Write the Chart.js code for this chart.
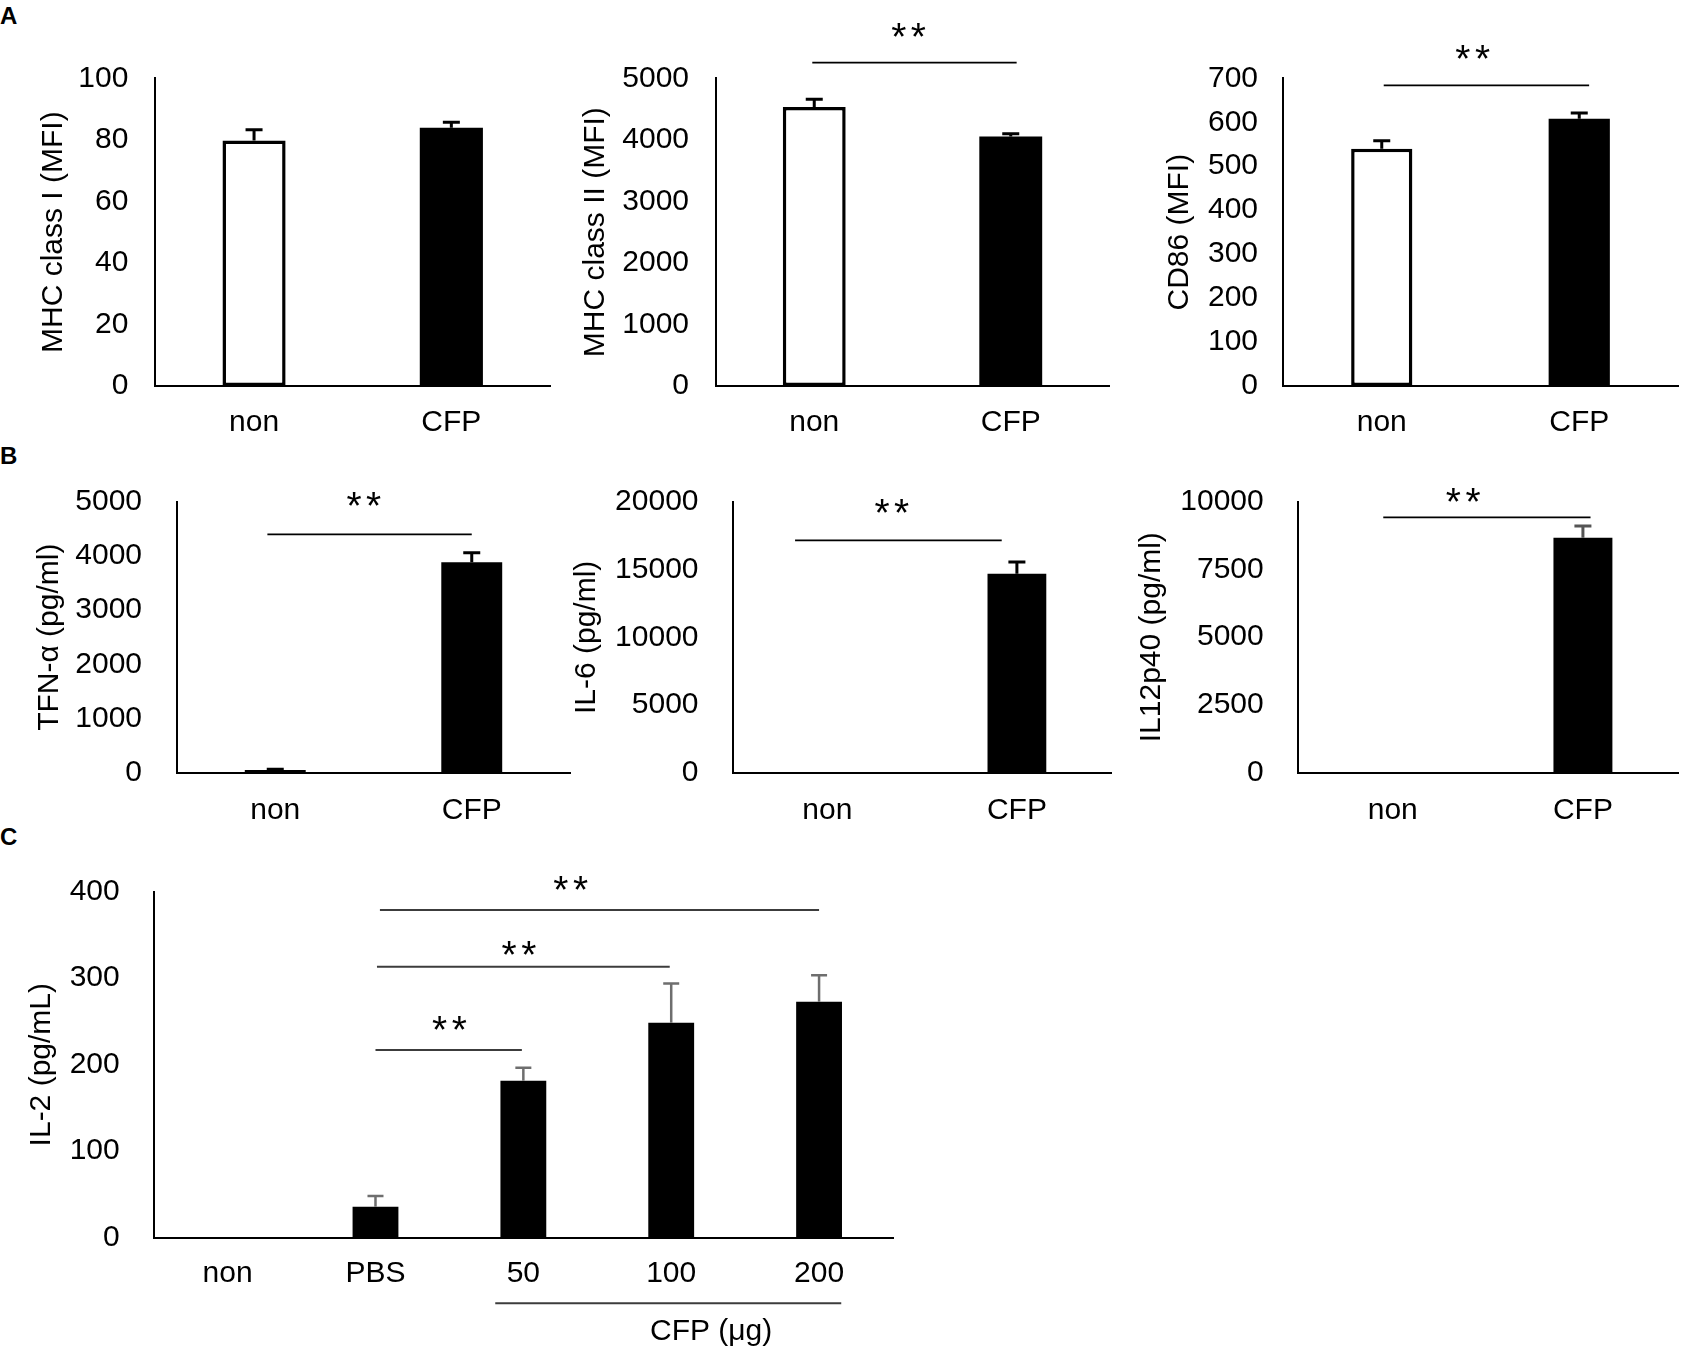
<!DOCTYPE html>
<html><head><meta charset="utf-8">
<script src="https://cdn.jsdelivr.net/npm/chart.js@4.4.0/dist/chart.umd.min.js"></script>
<style>
html,body{margin:0;padding:0;background:#fff;}
body{width:1683px;height:1352px;position:relative;overflow:hidden;font-family:"Liberation Sans",Arial,sans-serif;}
canvas{position:absolute;}
.lbl{position:absolute;font-weight:bold;font-size:24px;line-height:24px;color:#000;}
</style></head><body>
<div class="lbl" style="left:0px;top:4px">A</div>
<div class="lbl" style="left:0px;top:444px">B</div>
<div class="lbl" style="left:0px;top:825px">C</div>
<script>
// ---------- data ----------
const twoGroups = ['non', 'CFP'];
const il2Groups = ['non', 'PBS', '50', '100', '200'];

const mhc1Mean = [79.8, 83.9];
const mhc1Err  = [3.5, 1.8];
const mhc1Ticks = [0, 20, 40, 60, 80, 100];

const mhc2Mean = [4534, 4053];
const mhc2Err  = [125, 45];
const mhc2Ticks = [0, 1000, 2000, 3000, 4000, 5000];

const cd86Mean = [540, 608];
const cd86Err  = [18, 13];
const cd86Ticks = [0, 100, 200, 300, 400, 500, 600, 700];

const tnfMean = [50, 3882];
const tnfErr  = [15, 177];
const tnfTicks = [0, 1000, 2000, 3000, 4000, 5000];

const il6Mean = [0, 14700];
const il6Err  = [0, 860];
const il6Ticks = [0, 5000, 10000, 15000, 20000];

const il12Mean = [0, 8672];
const il12Err  = [0, 430];
const il12Ticks = [0, 2500, 5000, 7500, 10000];

const il2Mean = [0, 35.8, 181.5, 248.6, 272.8];
const il2Err  = [0, 12.4, 15, 45.4, 30.5];
const il2Ticks = [0, 100, 200, 300, 400];

// significance brackets: [fromIndex, toIndex, lineValue, starIndex, starValue]
const mhc2Sig = [[-0.01, 1.03, 5255, 0.48, 5779]];
const cd86Sig = [[0.01, 1.05, 684, 0.46, 760]];
const tnfSig  = [[-0.04, 1.0, 4398, 0.45, 5050]];
const il6Sig  = [[-0.17, 0.92, 17160, 0.34, 19675]];
const il12Sig = [[-0.05, 1.04, 9424, 0.37, 10247]];
const il2Sig  = [[1.0, 1.99, 217, 1.5, 248.6], [1.01, 2.99, 313.3, 1.97, 334.6], [1.03, 4.0, 378.8, 2.32, 410.4]];
const il2GroupLabel = 'CFP (\u03bcg)';
// ---------------------------

const FONT = '"Liberation Sans", Arial, sans-serif';
const FSZ = 30;
Chart.defaults.font.family = FONT;
Chart.defaults.color = '#000';

function drawStars(ctx, cx, cy, inkH, gap, color) {
  ctx.save();
  ctx.textAlign = 'left';
  ctx.textBaseline = 'alphabetic';
  ctx.font = '100px ' + FONT;
  let m = ctx.measureText('*');
  const h = m.actualBoundingBoxAscent + m.actualBoundingBoxDescent;
  const fs = 100 * inkH / h;
  ctx.font = fs + 'px ' + FONT;
  m = ctx.measureText('*');
  const dx = (m.actualBoundingBoxRight - m.actualBoundingBoxLeft) / 2;
  const dy = (m.actualBoundingBoxDescent - m.actualBoundingBoxAscent) / 2;
  ctx.fillStyle = color;
  [-gap / 2, gap / 2].forEach(o => ctx.fillText('*', cx + o - dx, cy - dy));
  ctx.restore();
}

const overlay = {
  id: 'overlay',
  afterDatasetsDraw(chart) {
    const cfg = chart.options.plugins.overlay;
    const ctx = chart.ctx, xs = chart.scales.x, ys = chart.scales.y;
    const meta = chart.getDatasetMeta(0);
    const vals = chart.data.datasets[0].data;
    ctx.save();
    ctx.lineCap = 'butt';
    cfg.err.forEach((e, i) => {
      if (!e) return;
      const bar = meta.data[i];
      const y0 = ys.getPixelForValue(vals[i]);
      const y1 = ys.getPixelForValue(vals[i] + e);
      ctx.strokeStyle = cfg.errColor;
      ctx.lineWidth = cfg.errWidth;
      ctx.beginPath();
      ctx.moveTo(bar.x, y0); ctx.lineTo(bar.x, y1);
      ctx.moveTo(bar.x - cfg.cap / 2, y1); ctx.lineTo(bar.x + cfg.cap / 2, y1);
      ctx.stroke();
    });
    cfg.sig.forEach(s => {
      const y = ys.getPixelForValue(s[2]);
      ctx.strokeStyle = cfg.sigColor;
      ctx.lineWidth = cfg.sigWidth;
      ctx.beginPath();
      ctx.moveTo(xs.getPixelForValue(s[0]), y);
      ctx.lineTo(xs.getPixelForValue(s[1]), y);
      ctx.stroke();
      drawStars(ctx, xs.getPixelForValue(s[3]), ys.getPixelForValue(s[4]), 14, 19.6, '#000');
    });
    if (cfg.group) {
      const g = cfg.group;
      const by = chart.chartArea.bottom + g.dy;
      ctx.strokeStyle = cfg.sigColor;
      ctx.lineWidth = 2;
      ctx.beginPath();
      ctx.moveTo(xs.getPixelForValue(g.from), by);
      ctx.lineTo(xs.getPixelForValue(g.to), by);
      ctx.stroke();
      ctx.fillStyle = '#000';
      ctx.font = FSZ + 'px ' + FONT;
      ctx.textAlign = 'center';
      ctx.textBaseline = 'middle';
      ctx.fillText(g.text, xs.getPixelForValue(g.tx), chart.chartArea.bottom + g.tdy);
    }
    ctx.restore();
  }
};

function makeChart(p) {
  const [cx, cy, cw, ch] = p.rect;
  const [l, t, r, b] = p.area;
  const cv = document.createElement('canvas');
  cv.width = cw; cv.height = ch;
  cv.style.left = cx + 'px'; cv.style.top = cy + 'px';
  cv.style.width = cw + 'px'; cv.style.height = ch + 'px';
  document.body.appendChild(cv);
  return new Chart(cv, {
    type: 'bar',
    data: {
      labels: p.labels,
      datasets: [{
        data: p.values,
        backgroundColor: p.fills,
        borderColor: '#000',
        borderWidth: p.borders,
        borderSkipped: false,
        barPercentage: p.barPct,
        categoryPercentage: 1
      }]
    },
    options: {
      responsive: false,
      animation: false,
      devicePixelRatio: 1,
      layout: { padding: { left: 0, top: t - cy, right: cx + cw - r, bottom: 0 } },
      plugins: {
        legend: { display: false },
        tooltip: { enabled: false },
        overlay: { err: p.err, errColor: p.errColor, errWidth: p.errWidth, cap: p.cap,
                   sig: p.sig, sigColor: p.sigColor, sigWidth: p.sigWidth, group: p.group }
      },
      scales: {
        x: {
          type: 'category',
          offset: true,
          grid: { display: false, drawTicks: false },
          border: { display: true, color: '#000', width: 2 },
          ticks: { color: '#000', font: { size: FSZ }, padding: p.xpad, maxRotation: 0, autoSkip: false },
          afterFit(s) { s.height = cy + ch - b; }
        },
        y: {
          min: p.ticks[0], max: p.ticks[p.ticks.length - 1],
          grid: { display: false, drawTicks: false },
          border: { display: true, color: '#000', width: 2 },
          ticks: { color: '#000', font: { size: FSZ }, padding: p.ypad, callback: v => String(v) },
          afterBuildTicks(s) { s.ticks = p.ticks.map(v => ({ value: v })); },
          afterFit(s) { s.width = l - cx; },
          title: { display: true, text: p.title, color: '#000', font: { size: FSZ },
                   padding: { top: p.titleX - cx - FSZ * 0.6, bottom: 0 } }
        }
      }
    },
    plugins: [overlay]
  });
}

const blackA = { errColor: '#000', errWidth: 3, cap: 17, sigColor: '#000', sigWidth: 1.8 };

makeChart(Object.assign({}, blackA, {
  rect: [0, 0, 560, 440], area: [155.4, 78.3, 550, 386], titleX: 53.6,
  labels: twoGroups, values: mhc1Mean, err: mhc1Err, ticks: mhc1Ticks,
  title: 'MHC class I (MFI)', fills: ['#fff', '#000'], borders: [3.5, 0],
  barPct: 0.32, xpad: 19, ypad: 27, sig: []
}));
makeChart(Object.assign({}, blackA, {
  rect: [560, 0, 560, 440], area: [716, 78.3, 1109, 386], titleX: 595.7,
  labels: twoGroups, values: mhc2Mean, err: mhc2Err, ticks: mhc2Ticks,
  title: 'MHC class II (MFI)', fills: ['#fff', '#000'], borders: [3.5, 0],
  barPct: 0.32, xpad: 19, ypad: 27, sig: mhc2Sig
}));
makeChart(Object.assign({}, blackA, {
  rect: [1110, 0, 573, 440], area: [1283, 78.3, 1678, 386], titleX: 1180,
  labels: twoGroups, values: cd86Mean, err: cd86Err, ticks: cd86Ticks,
  title: 'CD86 (MFI)', fills: ['#fff', '#000'], borders: [3.5, 0],
  barPct: 0.31, xpad: 19, ypad: 25, sig: cd86Sig
}));
makeChart(Object.assign({}, blackA, {
  rect: [0, 440, 580, 400], area: [177, 501.7, 570, 772.7], titleX: 50,
  labels: twoGroups, values: tnfMean, err: tnfErr, ticks: tnfTicks,
  title: 'TFN-\u03b1 (pg/ml)', fills: ['#000', '#000'], borders: [0, 0],
  barPct: 0.31, xpad: 20, ypad: 35, sig: tnfSig
}));
makeChart(Object.assign({}, blackA, {
  rect: [560, 440, 560, 400], area: [732.5, 502, 1111.7, 772.7], titleX: 586.8,
  labels: twoGroups, values: il6Mean, err: il6Err, ticks: il6Ticks,
  title: 'IL-6 (pg/ml)', fills: ['#000', '#000'], borders: [0, 0],
  barPct: 0.31, xpad: 20, ypad: 34, sig: il6Sig
}));
makeChart(Object.assign({}, blackA, {
  rect: [1120, 440, 563, 400], area: [1297.7, 501.7, 1678, 772.7], titleX: 1152,
  labels: twoGroups, values: il12Mean, err: il12Err, ticks: il12Ticks, errColor: '#555',
  title: 'IL12p40 (pg/ml)', fills: ['#000', '#000'], borders: [0, 0],
  barPct: 0.31, xpad: 20, ypad: 34, sig: il12Sig
}));
makeChart({
  rect: [0, 825, 950, 527], area: [153.7, 891.7, 893, 1237.7], titleX: 41.7,
  labels: il2Groups, values: il2Mean, err: il2Err, ticks: il2Ticks,
  title: 'IL-2 (pg/mL)', fills: '#000', borders: 0,
  barPct: 0.31, xpad: 18, ypad: 34, sig: il2Sig,
  errColor: '#6e6e6e', errWidth: 2.5, cap: 16, sigColor: '#3c3c3c', sigWidth: 2,
  group: { from: 1.81, to: 4.15, dy: 65.6, text: il2GroupLabel, tx: 3.27, tdy: 94 }
});
</script>
</body></html>
